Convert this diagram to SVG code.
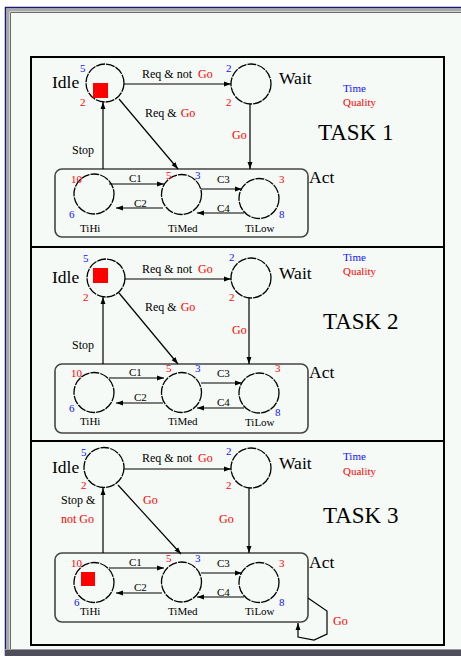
<svg xmlns="http://www.w3.org/2000/svg" width="461" height="656" viewBox="0 0 461 656">
<style>
text{font-family:"Liberation Serif","Times New Roman",serif;fill:#000}
.s{font-size:12px}
.n{font-size:11px}
.big{font-size:17.5px}
.task{font-size:23px}
.r{fill:#ff0000}
.b{fill:#1010ff}
.st{fill:none;stroke:#000;stroke-width:1.3;stroke-dasharray:9 1}
.ln{fill:none;stroke:#000;stroke-width:1.2}
.act{fill:none;stroke:#444;stroke-width:1.6}
</style>
<defs>
<marker id="ah" viewBox="0 0 10 10" refX="10" refY="5" markerWidth="7" markerHeight="7" orient="auto" markerUnits="userSpaceOnUse">
<path d="M0,1.5 L10,5 L0,8.5 z" fill="#000"/>
</marker>
</defs>
<rect width="461" height="656" fill="#fff"/>
<rect x="5" y="7" width="456" height="645" fill="#f6faf6"/>
<path d="M8,652 V10 H461" fill="none" stroke="#a8a8a8" stroke-width="3"/>
<path d="M10.5,650 V12.5 H461" fill="none" stroke="#6a6a6a" stroke-width="1"/>
<path d="M5.5,656 V7.5 H461" fill="none" stroke="#1a1a70" stroke-width="1.5"/>
<rect x="5" y="650" width="456" height="6" fill="#4e4e5c"/>
<rect x="5" y="649" width="456" height="1" fill="#9a9a9a"/>

<g id="frame">
<rect x="31" y="57" width="413" height="588" fill="none" stroke="#000" stroke-width="2"/>
<line x1="31" y1="247" x2="444" y2="247" stroke="#000" stroke-width="2"/>
<line x1="31" y1="441" x2="444" y2="441" stroke="#000" stroke-width="2"/>
</g>

<g id="t1-legend">
<text class="n b" x="343" y="92">Time</text>
<text class="n r" x="343" y="106">Quality</text>
<text class="task" x="318" y="140">TASK 1</text>
</g>
<g id="t1-idle">
<circle class="st" cx="105" cy="83" r="19"/>
<rect x="93" y="83" width="15" height="15" fill="#ff0000"/>
<text class="big" x="52" y="88">Idle</text>
<text class="n b" x="80" y="72">5</text>
<text class="n r" x="80" y="106">2</text>
</g>
<g id="t1-wait">
<circle class="st" cx="251" cy="84" r="20"/>
<text class="big" x="279" y="84">Wait</text>
<text class="n b" x="226" y="72">2</text>
<text class="n r" x="226" y="106">2</text>
</g>
<g id="t1-act">
<rect class="act" x="55" y="169" width="253" height="68" rx="7"/>
<text class="big" x="309" y="183">Act</text>
</g>
<g id="t1-tihi">
<circle class="st" cx="94" cy="194" r="20"/>
<text class="n r" x="71" y="183">10</text>
<text class="n b" x="69" y="218">6</text>
<text class="n" x="80" y="232">TiHi</text>
</g>
<g id="t1-timed">
<circle class="st" cx="181.5" cy="194.5" r="20"/>
<text class="n r" x="166" y="179">5</text>
<text class="n b" x="195" y="179">3</text>
<text class="n" x="168" y="232">TiMed</text>
</g>
<g id="t1-tilow">
<circle class="st" cx="259" cy="198.5" r="20"/>
<text class="n r" x="279" y="183">3</text>
<text class="n b" x="279" y="218">8</text>
<text class="n" x="245" y="232">TiLow</text>
</g>
<g id="t1-connectors">
<line class="ln" x1="124" y1="84" x2="231" y2="84" marker-end="url(#ah)"/>
<line class="ln" x1="119" y1="99" x2="178" y2="169" marker-end="url(#ah)"/>
<line class="ln" x1="250" y1="104" x2="250" y2="169" marker-end="url(#ah)"/>
<line class="ln" x1="103" y1="169" x2="103" y2="102" marker-end="url(#ah)"/>
<line class="ln" x1="109" y1="184" x2="164" y2="184" marker-end="url(#ah)"/>
<line class="ln" x1="163" y1="208" x2="116" y2="208" marker-end="url(#ah)"/>
<line class="ln" x1="201" y1="189" x2="242" y2="189" marker-end="url(#ah)"/>
<line class="ln" x1="244" y1="213" x2="197" y2="213" marker-end="url(#ah)"/>
<text class="s" x="142" y="78">Req &amp; not<tspan class="r" dx="6">Go</tspan></text>
<text class="s" x="145" y="117">Req &amp;<tspan class="r" dx="4">Go</tspan></text>
<text class="s r" x="232" y="139">Go</text>
<text class="s" x="72" y="154">Stop</text>
<text class="n" x="129" y="182">C1</text>
<text class="n" x="134" y="207">C2</text>
<text class="n" x="217" y="183">C3</text>
<text class="n" x="217" y="212">C4</text>
</g>

<g id="t2-legend">
<text class="n b" x="343" y="261">Time</text>
<text class="n r" x="343" y="275">Quality</text>
<text class="task" x="323" y="329">TASK 2</text>
</g>
<g id="t2-idle">
<circle class="st" cx="106" cy="278" r="19"/>
<rect x="93" y="268" width="15" height="15" fill="#ff0000"/>
<text class="big" x="52" y="283">Idle</text>
<text class="n b" x="83" y="262">5</text>
<text class="n r" x="83" y="301">2</text>
</g>
<g id="t2-wait">
<circle class="st" cx="251" cy="278" r="20"/>
<text class="big" x="279" y="279">Wait</text>
<text class="n b" x="229" y="261">2</text>
<text class="n r" x="229" y="301">2</text>
</g>
<g id="t2-act">
<rect class="act" x="55" y="364" width="253" height="69" rx="7"/>
<text class="big" x="309" y="378">Act</text>
</g>
<g id="t2-tihi">
<circle class="st" cx="94" cy="392.5" r="20"/>
<text class="n r" x="71" y="377">10</text>
<text class="n b" x="69" y="412">6</text>
<text class="n" x="80" y="425">TiHi</text>
</g>
<g id="t2-timed">
<circle class="st" cx="181.5" cy="392.5" r="20"/>
<text class="n r" x="166" y="372">5</text>
<text class="n b" x="195" y="372">3</text>
<text class="n" x="168" y="425">TiMed</text>
</g>
<g id="t2-tilow">
<circle class="st" cx="259" cy="393" r="20"/>
<text class="n r" x="275" y="372">3</text>
<text class="n b" x="275" y="416">8</text>
<text class="n" x="245" y="426">TiLow</text>
</g>
<g id="t2-connectors">
<line class="ln" x1="125" y1="279" x2="231" y2="279" marker-end="url(#ah)"/>
<line class="ln" x1="119" y1="293" x2="178" y2="364" marker-end="url(#ah)"/>
<line class="ln" x1="249" y1="298" x2="249" y2="364" marker-end="url(#ah)"/>
<line class="ln" x1="103" y1="364" x2="103" y2="297" marker-end="url(#ah)"/>
<line class="ln" x1="109" y1="378" x2="164" y2="378" marker-end="url(#ah)"/>
<line class="ln" x1="163" y1="403" x2="116" y2="403" marker-end="url(#ah)"/>
<line class="ln" x1="201" y1="383" x2="242" y2="383" marker-end="url(#ah)"/>
<line class="ln" x1="244" y1="408" x2="197" y2="408" marker-end="url(#ah)"/>
<text class="s" x="142" y="273">Req &amp; not<tspan class="r" dx="6">Go</tspan></text>
<text class="s" x="145" y="311">Req &amp;<tspan class="r" dx="4">Go</tspan></text>
<text class="s r" x="232" y="334">Go</text>
<text class="s" x="72" y="349">Stop</text>
<text class="n" x="129" y="376">C1</text>
<text class="n" x="134" y="401">C2</text>
<text class="n" x="217" y="377">C3</text>
<text class="n" x="217" y="406">C4</text>
</g>

<g id="t3-legend">
<text class="n b" x="343" y="460">Time</text>
<text class="n r" x="343" y="475">Quality</text>
<text class="task" x="323" y="523">TASK 3</text>
</g>
<g id="t3-idle">
<circle class="st" cx="104" cy="467.5" r="20"/>
<text class="big" x="52" y="473">Idle</text>
<text class="n b" x="81" y="456">5</text>
<text class="n r" x="81" y="489">2</text>
</g>
<g id="t3-wait">
<circle class="st" cx="251" cy="468" r="20"/>
<text class="big" x="279" y="469">Wait</text>
<text class="n b" x="226" y="455">2</text>
<text class="n r" x="226" y="489">2</text>
</g>
<g id="t3-act">
<rect class="act" x="55" y="553" width="253" height="69" rx="7"/>
<text class="big" x="309" y="568">Act</text>
</g>
<g id="t3-tihi">
<circle class="st" cx="94" cy="582.5" r="20"/>
<rect x="81" y="572" width="14" height="14" fill="#ff0000"/>
<text class="n r" x="71" y="567">10</text>
<text class="n b" x="74" y="606">6</text>
<text class="n" x="80" y="615">TiHi</text>
</g>
<g id="t3-timed">
<circle class="st" cx="181.5" cy="582" r="20"/>
<text class="n r" x="166" y="562">5</text>
<text class="n b" x="195" y="562">3</text>
<text class="n" x="168" y="615">TiMed</text>
</g>
<g id="t3-tilow">
<circle class="st" cx="259" cy="582.5" r="20"/>
<text class="n r" x="279" y="567">3</text>
<text class="n b" x="279" y="606">8</text>
<text class="n" x="245" y="615">TiLow</text>
</g>
<g id="t3-connectors">
<line class="ln" x1="124" y1="469" x2="231" y2="469" marker-end="url(#ah)"/>
<line class="ln" x1="118" y1="485" x2="181" y2="554" marker-end="url(#ah)"/>
<line class="ln" x1="249" y1="488" x2="249" y2="553" marker-end="url(#ah)"/>
<line class="ln" x1="103" y1="553" x2="103" y2="488" marker-end="url(#ah)"/>
<line class="ln" x1="109" y1="568" x2="164" y2="568" marker-end="url(#ah)"/>
<line class="ln" x1="162" y1="593" x2="116" y2="593" marker-end="url(#ah)"/>
<line class="ln" x1="201" y1="573" x2="242" y2="573" marker-end="url(#ah)"/>
<line class="ln" x1="244" y1="597" x2="197" y2="597" marker-end="url(#ah)"/>
<polyline class="ln" points="308,598 327,611 327,634 314,640 298,637 298,623" marker-end="url(#ah)"/>
<text class="s" x="142" y="462">Req &amp; not<tspan class="r" dx="6">Go</tspan></text>
<text class="s r" x="143" y="504">Go</text>
<text class="s r" x="219" y="523">Go</text>
<text class="s" x="61" y="504">Stop &amp;</text>
<text class="s r" x="61" y="523">not Go</text>
<text class="s r" x="333" y="625">Go</text>
<text class="n" x="129" y="566">C1</text>
<text class="n" x="134" y="591">C2</text>
<text class="n" x="217" y="567">C3</text>
<text class="n" x="217" y="596">C4</text>
</g>
</svg>
